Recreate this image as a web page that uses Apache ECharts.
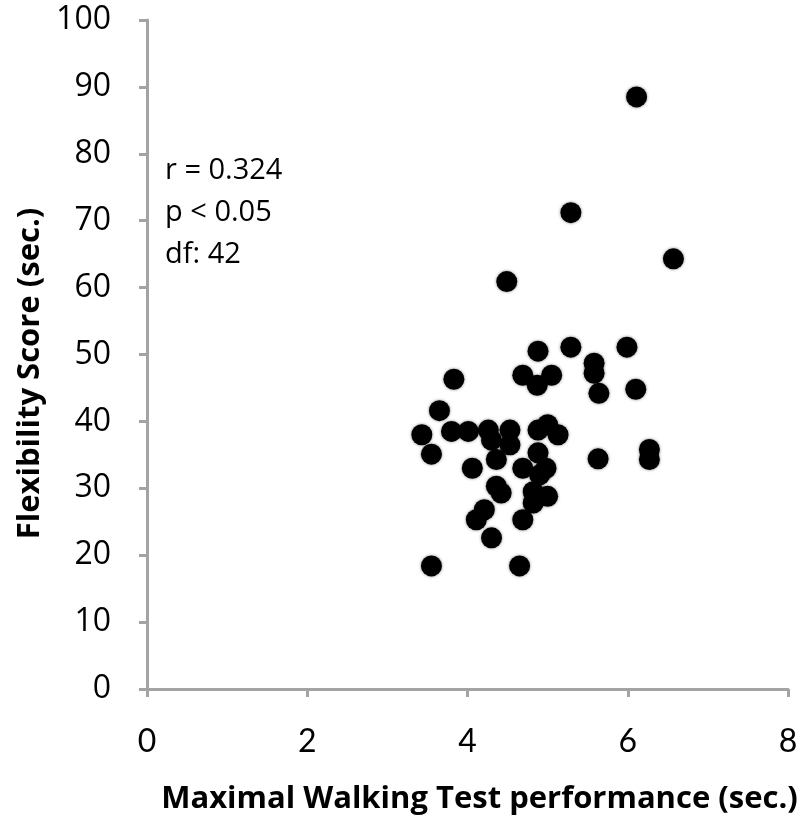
<!DOCTYPE html>
<html><head><meta charset="utf-8">
<script src="https://cdn.jsdelivr.net/npm/echarts@6/dist/echarts.min.js"></script>
<style>html,body{margin:0;padding:0;background:#fff}#c{width:803px;height:820px}</style>
</head><body><div id="c"></div>
<script>
var xValues = [6.11,5.29,6.57,4.49,4.88,5.29,5.99,3.83,4.69,5.05,4.87,5.58,5.58,5.64,6.10,3.65,3.43,3.55,3.80,4.01,4.26,4.30,4.53,4.53,4.88,5.00,5.13,4.88,4.36,4.06,4.69,4.98,4.90,5.63,6.27,6.27,4.36,4.42,4.82,5.00,4.82,4.21,4.11,4.69,4.30,3.55,4.65];
var yValues = [88.5,71.2,64.3,60.9,50.5,51.1,51.1,46.3,46.9,46.9,45.4,48.7,47.2,44.2,44.8,41.6,38.0,35.1,38.5,38.5,38.7,37.2,38.7,36.5,38.7,39.5,38.0,35.3,34.3,33.0,33.0,33.0,32.0,34.4,35.8,34.3,30.3,29.3,29.5,28.8,27.8,26.8,25.3,25.3,22.6,18.4,18.4];
var xTicks = [0,2,4,6,8];
var yTicks = [0,10,20,30,40,50,60,70,80,90,100];
var statsLines = ['r = 0.324','p < 0.05','df: 42'];
var xTitle = 'Maximal Walking Test performance (sec.)';
var yTitle = 'Flexibility Score (sec.)';

var data = xValues.map(function(x,i){return [x,yValues[i]];});
var chart = echarts.init(document.getElementById('c'));
var axisLine = {show:true,lineStyle:{color:'#a3a3a3',width:3}};
var tick = {show:true,length:8,lineStyle:{color:'#a3a3a3',width:3}};
chart.setOption({
  animation:false,
  grid:{left:147,right:15,top:20,bottom:128,containLabel:false},
  xAxis:{type:'value',min:xTicks[0],max:xTicks[xTicks.length-1],interval:2,
    axisLine:axisLine,axisTick:tick,splitLine:{show:false},
    axisLabel:{margin:37,fontSize:32,color:'#000',fontFamily:'Lato'},
    name:xTitle,nameLocation:'middle',nameGap:95,
    nameTextStyle:{fontSize:31,fontWeight:'bold',color:'#000',fontFamily:'"Open Sans"',padding:[0,0,0,24]}},
  yAxis:{type:'value',min:yTicks[0],max:yTicks[yTicks.length-1],interval:10,
    axisLine:axisLine,axisTick:tick,splitLine:{show:false},
    axisLabel:{margin:36,fontSize:32,color:'#000',fontFamily:'"Open Sans"'},
    name:yTitle,nameLocation:'middle',nameGap:99,nameRotate:90,
    nameTextStyle:{fontSize:31,fontWeight:'bold',color:'#000',fontFamily:'"Open Sans"',padding:[0,38,0,0]}},
  graphic:[{type:'text',left:165,top:150,style:{text:statsLines.join('\n'),font:'29px "Open Sans"',fill:'#000',lineHeight:42}}],
  series:[{type:'scatter',data:data,symbolSize:21,
    itemStyle:{color:'#000',opacity:1,shadowBlur:3,shadowColor:'rgba(0,0,0,0.5)'}}]
});
</script></body></html>
